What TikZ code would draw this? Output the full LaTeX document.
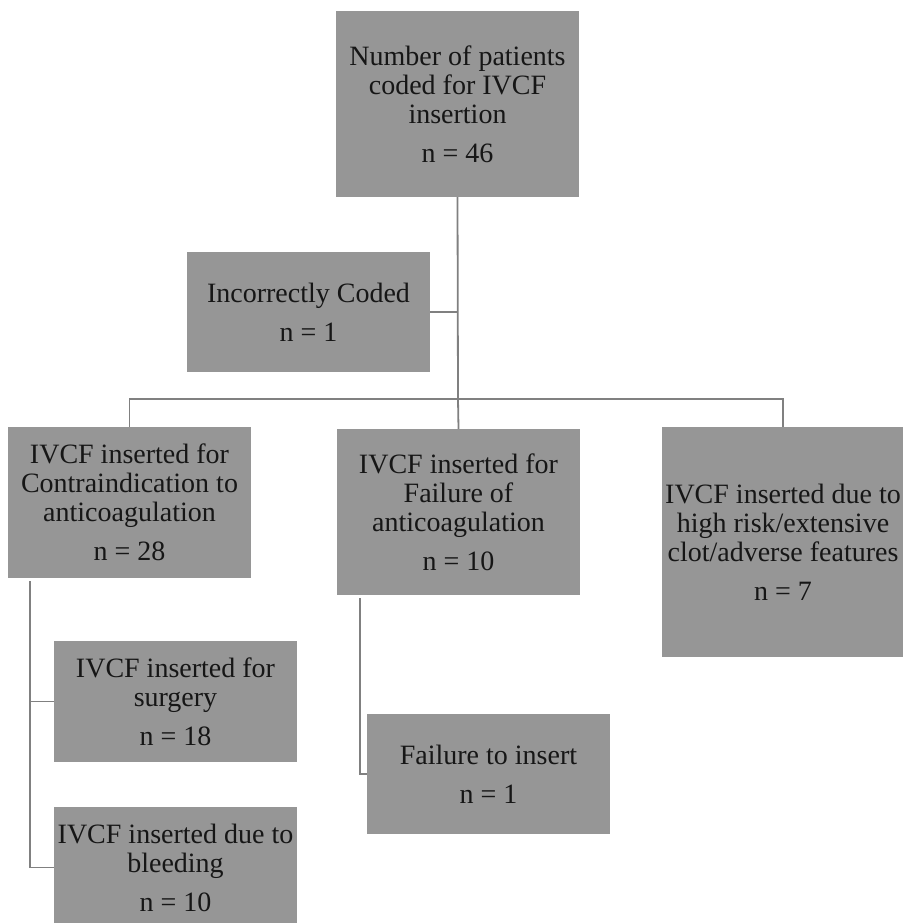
\documentclass[tikz,border=0pt]{standalone}
\usepackage{fontspec}
\setmainfont{Liberation Serif}
\definecolor{boxgray}{RGB}{150,150,150}
\definecolor{linegray}{RGB}{128,128,128}
\definecolor{textgray}{RGB}{22,22,22}

\begin{document}
\begin{tikzpicture}[x=1pt,y=-1pt,
	box/.style={fill=boxgray,text=textgray,minimum width=243pt,inner sep=0pt,align=center,font=\fontsize{28}{29}\selectfont},
	link/.style={draw=linegray,line width=1.8pt}]
				\useasboundingbox (0,0) rectangle (902,923);
				\node[box,minimum height=186pt] (Num) at (457.5,104) {Number of patients\\coded for IVCF\\insertion\\[10pt]n = 46};
				\node[box,minimum height=120pt] (Wrong) at (308.5,312) {Incorrectly Coded\\[10pt]n = 1};
				\node[box,minimum height=151pt] (Contra) at (129.5,502.5) {IVCF inserted for\\Contraindication to\\anticoagulation\\[10pt]n = 28};
				\node[box,minimum height=166pt] (Fail) at (458.5,512) {IVCF inserted for\\Failure of\\anticoagulation\\[10pt]n = 10};
				\node[box,minimum height=230pt] (Risk) at (783,542) {IVCF inserted due to\\high risk/extensive\\clot/adverse features\\[10pt]n = 7};
				\node[box,minimum height=121pt] (Surg) at (175.5,701.5) {IVCF inserted for\\surgery\\[10pt]n = 18};
				\node[box,minimum height=121pt] (Bleed) at (175.5,867.5) {IVCF inserted due to\\bleeding\\[10pt]n = 10};
				\node[box,minimum height=120pt] (Ins) at (488.5,774) {Failure to insert\\[10pt]n = 1};
				\coordinate (Split) at (458,399);
				\coordinate (ContraLeg) at ([xshift=22pt,yshift=-3pt]Contra.south west);
				\coordinate (FailLeg) at ([xshift=23pt,yshift=-3pt]Fail.south west);
				\draw[link] (Num.south) -- (Split);
				\draw[link] (Wrong.east) -- (Wrong.east -| Split);
				\draw[link] (Contra.north) |- (Split) -| (Risk.north);
				\draw[link] (Split) -- (Fail.north);
				\draw[link] (ContraLeg) |- (Surg.west);
				\draw[link] (ContraLeg) |- (Bleed.west);
				\draw[link] (FailLeg) |- (Ins.west);
			\end{tikzpicture}
\end{document}
